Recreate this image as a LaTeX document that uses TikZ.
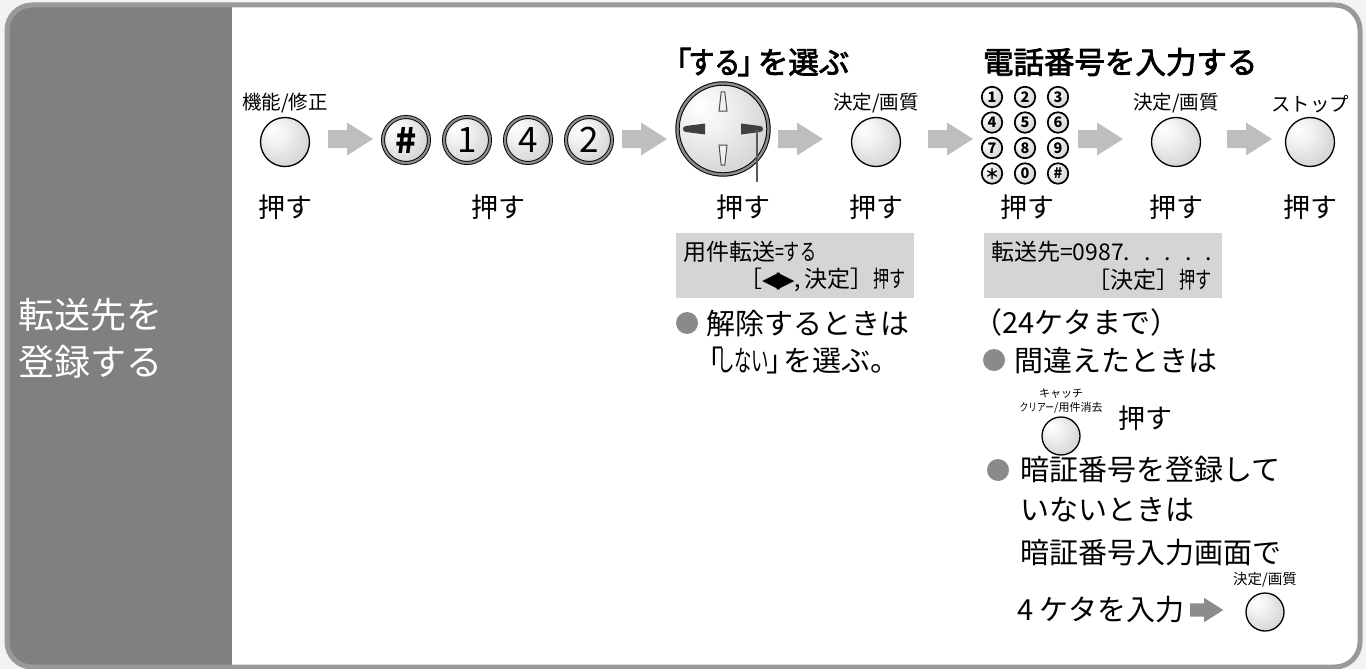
\documentclass[tikz,border=0pt]{standalone}
\usepackage{fontspec}
\usepackage{graphicx}
\setmainfont{Noto Sans CJK JP}
\newfontfamily\symfont{DejaVu Sans}
\newfontfamily\headfont[FakeBold=2.5]{Noto Sans CJK JP}
\usetikzlibrary{positioning, calc}
\definecolor{frameGray}{HTML}{9A9A9A}
\definecolor{panelGray}{HTML}{808080}
\definecolor{arrowGray}{HTML}{BEBEBE}
\definecolor{arrowDark}{HTML}{8C8C8C}
\definecolor{lcdGray}{HTML}{D5D5D5}
\definecolor{dotGray}{HTML}{8A8A8A}
\definecolor{bgGray}{HTML}{F2F3F5}
\pgfdeclareradialshading{btnball}{\pgfpoint{-14bp}{14bp}}{color(0bp)=(white); color(12bp)=(black!5); color(32bp)=(black!17); color(50bp)=(black!25)}
\newcommand{\pxsize}[1]{\fontsize{#1}{#1}\selectfont}
\newcommand{\narrow}[2][0.7]{\scalebox{#1}[1]{#2}}
\newcommand{\blockarrow}[3][arrowGray]{%
  \fill[#1, shift={#3}, scale=#2] (0,-9) -- (19,-9) -- (19,-16.5) -- (45,0) -- (19,16.5) -- (19,9) -- (0,9) -- cycle;}
\tikzset{
  every node/.style={inner sep=0pt, outer sep=0pt},
  btn/.style={circle, draw=black, line width=1.3, minimum size=49, shade, shading=btnball},
  key/.style={circle, draw=black, line width=0.9, double=black!45, double distance=2.2,
              minimum size=46, shade, shading=btnball, font=\pxsize{35}},
  padkey/.style={circle, draw=black, line width=1.7, minimum size=20.5, shade, shading=btnball,
                 font=\bfseries\pxsize{14.5}},
  lbl/.style={font=\pxsize{19.5}},
  smalllbl/.style={font=\pxsize{14.5}},
  tinylbl/.style={font=\pxsize{11}},
  push/.style={font=\pxsize{27}},
  head/.style={font=\headfont\pxsize{30.5}, anchor=west},
  body/.style={font=\pxsize{29}, anchor=west},
  title/.style={font=\pxsize{36}, text=white, align=left, anchor=west},
  lcd/.style={fill=lcdGray, anchor=north west, minimum width=238, minimum height=65},
  lcdtxt/.style={font=\pxsize{23}},
  bullet/.style={circle, fill=dotGray, minimum size=22},
}

\begin{document}
\begin{tikzpicture}[x=1pt, y=-1pt]
  \useasboundingbox (0,0) rectangle (1366,669);
  % frame and side panel
  \fill[bgGray] (0,0) rectangle (1366,669);
  \fill[white, rounded corners=25] (7,5) rectangle (1360,667);
  \begin{scope}
    \clip[rounded corners=25] (7,5) rectangle (1360,667);
    \fill[panelGray] (0,0) rectangle (232,669);
  \end{scope}
  \draw[frameGray, line width=5, rounded corners=25] (7,5) rectangle (1360,667);
  \node[title] (title) at (19,338) {転送先を\\[11pt]登録する};

  % headings
  \node[head] (selhead) at (661,62) {「\kern-3pt\narrow[0.85]{する}\kern-3pt」\kern-10pt を選ぶ};
  \node[head] (numhead) at (983,62) {電話番号を入力する};

  % step 1: function key
  \node[btn] (kinou) at (285,142) {};
  \node[lbl, above=5pt of kinou] (kinoulbl) {機能/修正};
  \blockarrow{1}{(328,139)}

  % step 2: # 1 4 2
  \node[key] (keyh) at (406,140) {\bfseries\#};
  \node[key] (key1) at (467,140) {1};
  \node[key] (key4) at (528,140) {4};
  \node[key] (key2) at (589,140) {2};
  \blockarrow{1}{(622,139)}

  % step 3: cross key
  \node[key, minimum size=91, line width=1, double distance=2.4] (cross) at (723,129) {};
  \begin{scope}[shift={(cross.center)}]
    \draw[black!70, line width=1, fill=black!6] (-4,-18) -- (-1.8,-37) -- (1.8,-37) -- (4,-18) -- cycle;
    \draw[black!70, line width=1, fill=black!6] (-4,16) -- (4,16) -- (1.8,36) -- (-1.8,36) -- cycle;
    \fill[black!75] (-18,-5.5) -- (-18,5.5) -- (-37,3) .. controls (-41,3) and (-41,-3) .. (-37,-3) -- cycle;
    \fill[black!75] (18,-5.5) -- (18,5.5) -- (37,3) .. controls (41,3) and (41,-3) .. (37,-3) -- cycle;
  \end{scope}
  \coordinate (crosstip) at ($(cross.center)+(34,1)$);
  \coordinate (crossend) at ($(crosstip)+(0,52)$);
  \draw[black!65, line width=1.2] (crosstip) -- (crossend);
  \blockarrow{1}{(778,139)}

  % step 4: set key
  \node[btn] (kettei) at (876,142) {};
  \node[lbl, above=5pt of kettei] (ketteilbl) {決定/画質};
  \blockarrow{1}{(928,139)}

  % step 5: keypad
  \foreach \t [count=\i from 0] in {1,2,3,4,5,6,7,8,9,＊,0,\#} {
    \pgfmathtruncatemacro{\col}{mod(\i,3)}
    \pgfmathtruncatemacro{\row}{\i/3}
    \node[padkey] (pad\i) at (992+33*\col, 97+25.5*\row) {\t};
  }
  \blockarrow{1}{(1078,139)}

  % step 6: set key, stop key
  \node[btn] (kettei2) at (1176,142) {};
  \node[lbl, above=5pt of kettei2] (kettei2lbl) {決定/画質};
  \blockarrow{1}{(1227,139)}
  \node[btn] (stop) at (1310,142) {};
  \node[lbl, above=5pt of stop] (stoplbl) {ストップ};

  % push labels
  \node[push] (push1) at (285,207) {押す};
  \node[push] (push2) at (498,207) {押す};
  \node[push] (push3) at (743,207) {押す};
  \node[push] (push4) at (876,207) {押す};
  \node[push] (push5) at (1027,207) {押す};
  \node[push] (push6) at (1176,207) {押す};
  \node[push] (push7) at (1310,207) {押す};

  % display boxes
  \node[lcd] (lcdA) at (676,233) {};
  \node[lcdtxt, anchor=west] (lcdA1) at (683,252) {用件転送\narrow{=する}};
  \node[lcdtxt, anchor=east] (lcdA2) at (906,280) {［{\symfont ◀\kern-3pt▶},\,決定］\narrow{押す}};
  \node[lcd] (lcdB) at (984,233) {};
  \node[lcdtxt, anchor=west] (lcdB1) at (991,252) {転送先=0987.\hspace{14pt}.\hspace{14pt}.\hspace{14pt}.\hspace{14pt}.};
  \node[lcdtxt, anchor=east] (lcdB2) at (1212,280) {［決定］\narrow{押す}};

  % notes under step 3
  \node[bullet] (dotA) at (687,323) {};
  \node[body] (noteA1) at (706,323) {解除するときは};
  \node[body] (noteA2) at (694,360) {「\kern-6pt\narrow[0.6]{しない}\kern-3pt」\kern-12pt を選ぶ。};

  % notes under step 5
  \node[body] (noteB0) at (973,322) {（24ケタまで）};
  \node[bullet] (dotB) at (994,360) {};
  \node[body] (noteB1) at (1014,360) {間違えたときは};
  \node[btn, minimum size=38] (clear) at (1061,436) {};
  \node[tinylbl, above=4pt of clear] (clearlbl) {\narrow[0.8]{クリアー}/用件消去};
  \node[tinylbl, above=3pt of clearlbl] (catchlbl) {キャッチ};
  \node[push, anchor=west] (push8) at (1118,418) {押す};
  \node[bullet] (dotC) at (998,470) {};
  \node[body] (noteC1) at (1020,470) {暗証番号を登録して};
  \node[body] (noteC2) at (1020,510) {いないときは};
  \node[body] (noteC3) at (1020,553) {暗証番号入力画面で};
  \node[body] (noteC4) at (1017,610) {4\hspace{6pt}ケタを入力};
  \blockarrow[arrowDark]{0.74}{(1190,610)}
  \node[btn, minimum size=38] (kettei3) at (1265,612) {};
  \node[smalllbl, above=6pt of kettei3] (kettei3lbl) {決定/画質};
\end{tikzpicture}
\end{document}
